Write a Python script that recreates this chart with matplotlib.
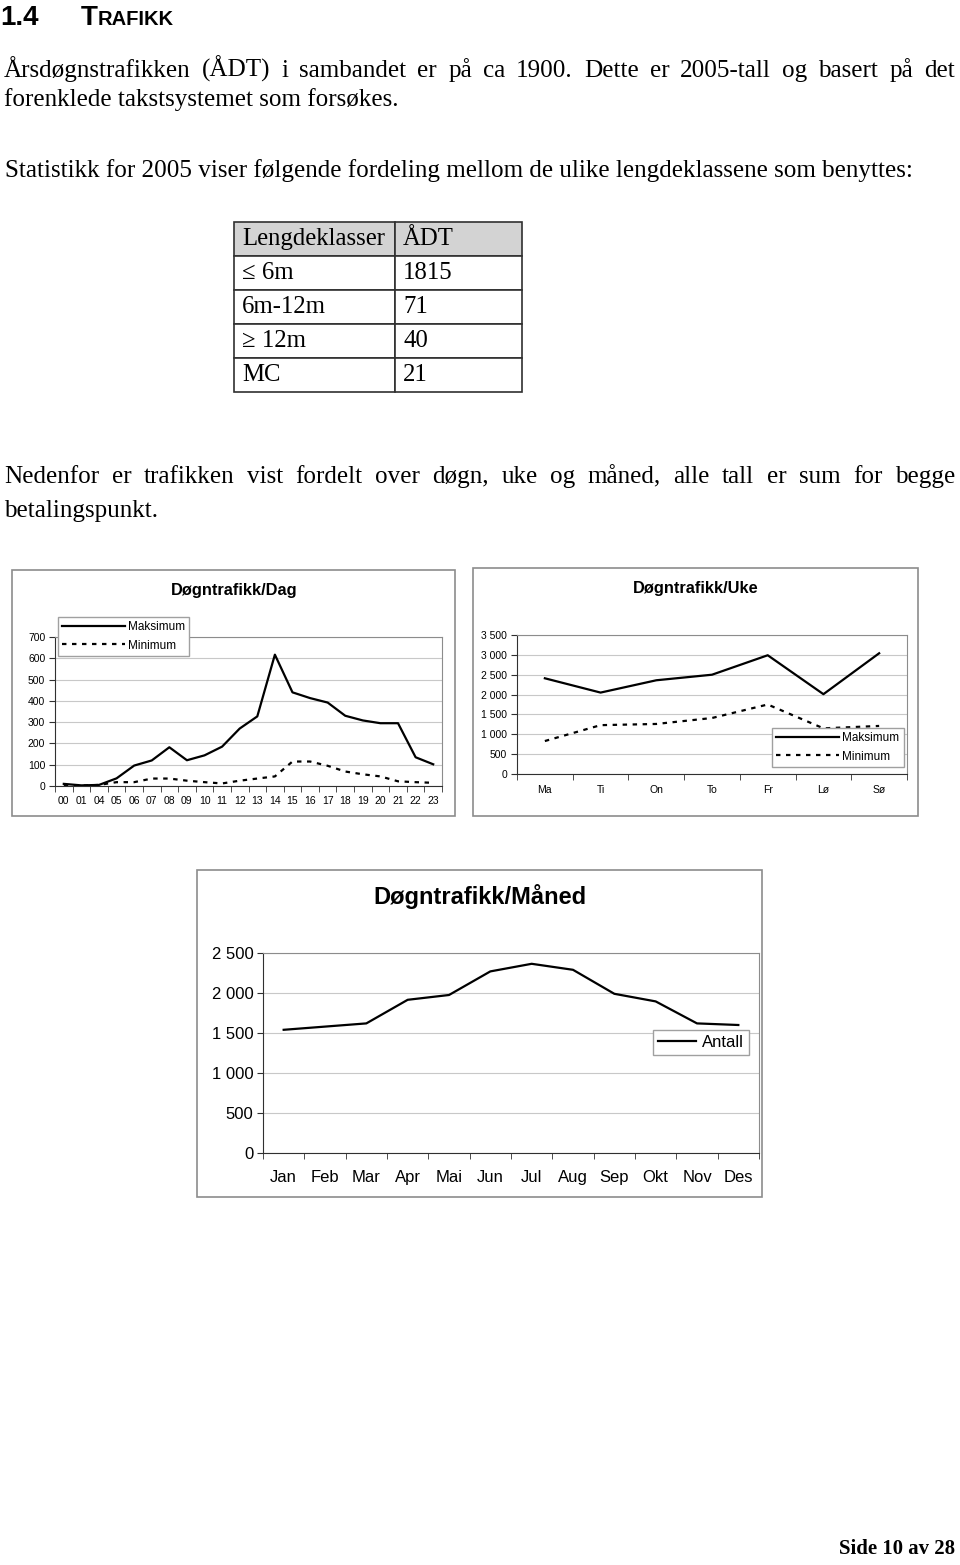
import numpy as np
import matplotlib
matplotlib.use("Agg")
import matplotlib.pyplot as plt
from matplotlib.patches import Rectangle
from matplotlib.ticker import FuncFormatter

# data
classes = ["≤ 6m", "6m-12m", "≥ 12m", "MC"]
class_adt = ["1815", "71", "40", "21"]

hours = ["00", "01", "04", "05", "06", "07", "08", "09", "10", "11", "12",
         "13", "14", "15", "16", "17", "18", "19", "20", "21", "22", "23"]
day_max = [10, 3, 5, 36, 96, 120, 182, 121, 144, 185, 270,
           327, 617, 440, 413, 392, 330, 308, 295, 295, 135, 102]
day_min = [5, 2, 5, 18, 18, 35, 35, 25, 18, 12, 25,
           35, 45, 115, 115, 95, 68, 55, 45, 22, 18, 15]

days = ["Ma", "Ti", "On", "To", "Fr", "Lø", "Sø"]
week_max = [2410, 2050, 2360, 2500, 2990, 2010, 3040]
week_min = [830, 1230, 1260, 1410, 1750, 1150, 1210]

months = ["Jan", "Feb", "Mar", "Apr", "Mai", "Jun", "Jul", "Aug", "Sep", "Okt", "Nov", "Des"]
month_adt = [1540, 1580, 1620, 1915, 1975, 2270, 2365, 2290, 1990, 1895, 1620, 1600]

SERIF = "Liberation Serif"
SANS = "Liberation Sans"

W, H = 960, 1565
fig = plt.figure(figsize=(W / 100, H / 100), dpi=100)
fig.patch.set_facecolor("white")
renderer = fig.canvas.get_renderer()


def px_text(x, y, s, **kw):
    return fig.text(x / W, 1 - y / H, s, **kw)


def width_of(t):
    return t.get_window_extent(renderer).width


def fit_size(s, target, **kw):
    t = px_text(0, 0, s, fontsize=20, **kw)
    w = width_of(t)
    t.remove()
    return 20 * target / w


def justified(s, x0, x1, y, size, **kw):
    words = s.split()
    ts = [px_text(0, y, w, fontsize=size, va="baseline", **kw) for w in words]
    ws = [width_of(t) for t in ts]
    gap = (x1 - x0 - sum(ws)) / (len(words) - 1)
    x = x0
    for t, w in zip(ts, ws):
        t.set_x(x / W)
        x += w + gap


def add_ax(x0, y0, x1, y1):
    return fig.add_axes([x0 / W, 1 - y1 / H, (x1 - x0) / W, (y1 - y0) / H])


def frame(x0, y0, x1, y1):
    fig.add_artist(Rectangle((x0 / W, 1 - y1 / H), (x1 - x0) / W, (y1 - y0) / H,
                             transform=fig.transFigure, fill=False,
                             edgecolor="#8c8c8c", lw=1.2))


def thousands(v, pos):
    return f"{int(v):,}".replace(",", " ")


def style_axes(ax, cats, fs, xpad):
    for side in ("top", "right"):
        ax.spines[side].set_color("#8c8c8c")
    for side in ("left", "bottom"):
        ax.spines[side].set_color("#303030")
    ax.grid(axis="y", color="#c8c8c8", lw=0.8)
    ax.set_axisbelow(True)
    n = len(cats)
    ax.set_xlim(-0.5, n - 0.5)
    ax.set_xticks(range(n))
    ax.set_xticklabels(cats, fontsize=fs, family=SANS)
    ax.set_xticks(np.arange(-0.5, n), minor=True)
    ax.tick_params(axis="x", which="major", length=0, pad=xpad)
    ax.tick_params(axis="x", which="minor", length=4, color="#303030")
    ax.tick_params(axis="y", length=4, pad=3, color="#303030", labelsize=fs)
    for lab in ax.get_yticklabels():
        lab.set_family(SANS)


# ---- page text ----
px_text(0, 25, "1.4", fontsize=20, fontweight="bold", family=SANS, va="baseline")
px_text(81, 25, "T", fontsize=20, fontweight="bold", family=SANS, va="baseline")
px_text(98, 25, "RAFIKK", fontsize=14.5, fontweight="bold", family=SANS, va="baseline")

stat_line = "Statistikk for 2005 viser følgende fordeling mellom de ulike lengdeklassene som benyttes:"
body = fit_size(stat_line, 908, family=SERIF)

justified("Årsdøgnstrafikken (ÅDT) i sambandet er på ca 1900. Dette er 2005-tall og basert på det",
          4, 955, 77, body, family=SERIF)
px_text(4, 106, "forenklede takstsystemet som forsøkes.", fontsize=body, family=SERIF, va="baseline")
px_text(5, 177, stat_line, fontsize=body, family=SERIF, va="baseline")

justified("Nedenfor er trafikken vist fordelt over døgn, uke og måned, alle tall er sum for begge",
          4, 955, 483, body, family=SERIF)
px_text(4, 517, "betalingspunkt.", fontsize=body, family=SERIF, va="baseline")

# ---- table ----
tab_x = [234, 395, 522]
tab_y = [222, 256, 290, 324, 358, 392]
tsize = fit_size("Lengdeklasser", 143, family=SERIF)
rows = [("Lengdeklasser", "ÅDT")] + list(zip(classes, class_adt))
for i, row in enumerate(rows):
    for j in range(2):
        fig.add_artist(Rectangle((tab_x[j] / W, 1 - tab_y[i + 1] / H),
                                 (tab_x[j + 1] - tab_x[j]) / W,
                                 (tab_y[i + 1] - tab_y[i]) / H,
                                 transform=fig.transFigure,
                                 facecolor="#d3d3d3" if i == 0 else "white",
                                 edgecolor="#303030", lw=1.2))
        px_text(tab_x[j] + 8, tab_y[i + 1] - 11, row[j], fontsize=tsize,
                family=SERIF, va="baseline")

# ---- Døgntrafikk/Dag ----
frame(12, 570, 455, 816)
px_text(234, 590, "Døgntrafikk/Dag", fontsize=11.8, fontweight="bold", family=SANS,
        ha="center", va="center")
ax1 = add_ax(55, 637, 442, 786)
ax1.plot(range(len(hours)), day_max, color="black", lw=1.6, label="Maksimum")
ax1.plot(range(len(hours)), day_min, color="black", lw=1.6, ls=(0, (2, 2.5)), label="Minimum")
ax1.set_ylim(0, 700)
ax1.set_yticks(range(0, 701, 100))
style_axes(ax1, hours, 7.5, 7)
ax1.legend(loc="upper left", bbox_to_anchor=(58 / W, 1 - 617 / H),
           bbox_transform=fig.transFigure, borderaxespad=0, fancybox=False,
           edgecolor="#a0a0a0", framealpha=1, prop={"family": SANS, "size": 8.5},
           handlelength=5.3, handletextpad=0.3, labelspacing=0.55, borderpad=0.35)

# ---- Døgntrafikk/Uke ----
frame(473, 568, 918, 816)
px_text(696, 588, "Døgntrafikk/Uke", fontsize=11.8, fontweight="bold", family=SANS,
        ha="center", va="center")
ax2 = add_ax(517, 635, 907, 774)
ax2.plot(range(len(days)), week_max, color="black", lw=1.6, label="Maksimum")
ax2.plot(range(len(days)), week_min, color="black", lw=1.6, ls=(0, (2, 2.5)), label="Minimum")
ax2.set_ylim(0, 3500)
ax2.set_yticks(range(0, 3501, 500))
ax2.yaxis.set_major_formatter(FuncFormatter(thousands))
style_axes(ax2, days, 7.5, 8)
ax2.legend(loc="upper left", bbox_to_anchor=(772 / W, 1 - 728 / H),
           bbox_transform=fig.transFigure, borderaxespad=0, fancybox=False,
           edgecolor="#a0a0a0", framealpha=1, prop={"family": SANS, "size": 8.5},
           handlelength=5.3, handletextpad=0.3, labelspacing=0.55, borderpad=0.35)

# ---- Døgntrafikk/Måned ----
frame(197, 870, 762, 1197)
px_text(480, 896, "Døgntrafikk/Måned", fontsize=17, fontweight="bold", family=SANS,
        ha="center", va="center")
ax3 = add_ax(263, 953, 759, 1153)
ax3.plot(range(len(months)), month_adt, color="black", lw=1.6, label="Antall")
ax3.set_ylim(0, 2500)
ax3.set_yticks(range(0, 2501, 500))
ax3.yaxis.set_major_formatter(FuncFormatter(thousands))
style_axes(ax3, months, 12, 12)
ax3.legend(loc="upper left", bbox_to_anchor=(653 / W, 1 - 1030 / H),
           bbox_transform=fig.transFigure, borderaxespad=0, fancybox=False,
           edgecolor="#a0a0a0", framealpha=1, prop={"family": SANS, "size": 12},
           handlelength=2.3, handletextpad=0.35, borderpad=0.3)

# ---- footer ----
fsize = fit_size("Side 10 av 28", 116, family=SERIF, fontweight="bold")
px_text(955, 1554, "Side 10 av 28", fontsize=fsize, family=SERIF, fontweight="bold",
        ha="right", va="baseline")

fig.savefig("out.png", dpi=100)
